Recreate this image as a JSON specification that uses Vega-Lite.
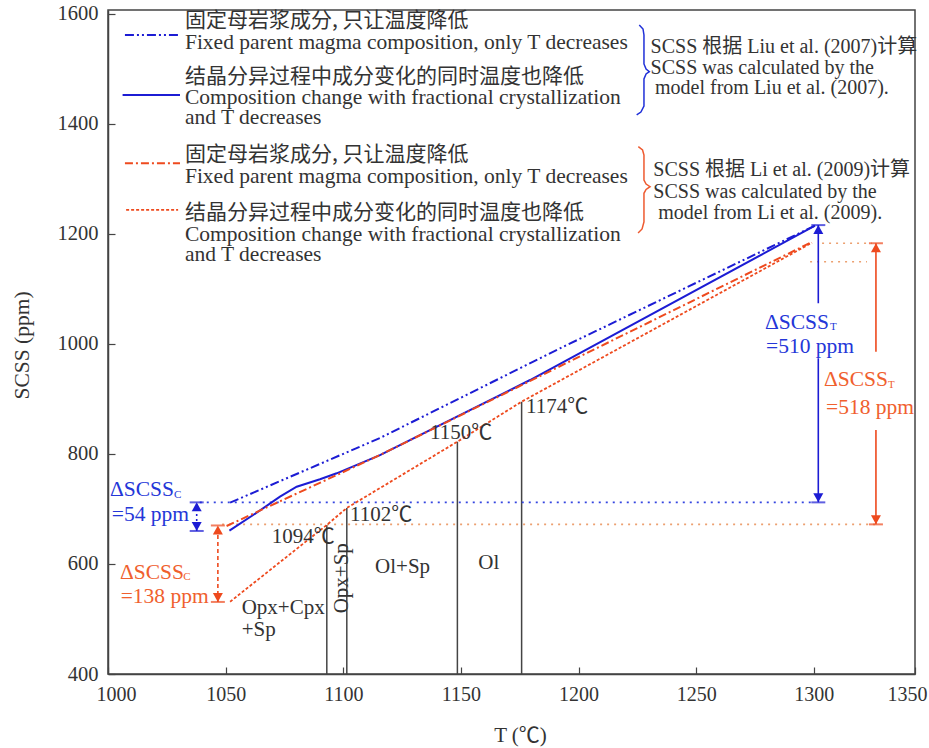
{
  "$schema": "https://vega.github.io/schema/vega-lite/v6.json",
  "width": 807,
  "height": 664,
  "autosize": {"type": "none"},
  "padding": {"left": 108, "top": 10, "right": 14, "bottom": 74},
  "background": "white",
  "config": {
    "view": {"stroke": "#444", "strokeWidth": 1.5},
    "font": "Liberation Serif, Noto Sans CJK SC",
    "text": {"font": "Liberation Serif, Noto Sans CJK SC"}
  },
  "resolve": {"scale": {"color": "independent", "strokeDash": "independent", "shape": "independent"}},
  "datasets": {
    "curves": [
      {"s": "bdd", "p": "c", "T": 1051.9, "ppm": 711.4},
      {"s": "bdd", "p": "c", "T": 1115.6, "ppm": 829},
      {"s": "bdd", "p": "c", "T": 1192.1, "ppm": 992},
      {"s": "bdd", "p": "c", "T": 1300.5, "ppm": 1215},
      {"s": "bdd", "p": "l", "T": 1007.2, "ppm": 1561.6},
      {"s": "bdd", "p": "l", "T": 1029.8, "ppm": 1561.6},
      {"s": "bs", "p": "c", "T": 1051.6, "ppm": 660.5},
      {"s": "bs", "p": "c", "T": 1063.2, "ppm": 693.2},
      {"s": "bs", "p": "c", "T": 1073.1, "ppm": 722.3},
      {"s": "bs", "p": "c", "T": 1080.2, "ppm": 740.5},
      {"s": "bs", "p": "c", "T": 1090.1, "ppm": 753.9},
      {"s": "bs", "p": "c", "T": 1097.2, "ppm": 764.8},
      {"s": "bs", "p": "c", "T": 1115.6, "ppm": 798},
      {"s": "bs", "p": "c", "T": 1179.4, "ppm": 934.4},
      {"s": "bs", "p": "c", "T": 1300.5, "ppm": 1215},
      {"s": "bs", "p": "l", "T": 1006.2, "ppm": 1452.5},
      {"s": "bs", "p": "l", "T": 1030.6, "ppm": 1452.5},
      {"s": "rdd", "p": "c", "T": 1050.4, "ppm": 669},
      {"s": "rdd", "p": "c", "T": 1115.6, "ppm": 798.1},
      {"s": "rdd", "p": "c", "T": 1299.2, "ppm": 1185.3},
      {"s": "rdd", "p": "l", "T": 1007.2, "ppm": 1328.4},
      {"s": "rdd", "p": "l", "T": 1030.6, "ppm": 1328.4},
      {"s": "rdot", "p": "c", "T": 1051.9, "ppm": 531.4},
      {"s": "rdot", "p": "c", "T": 1093.0, "ppm": 670.9},
      {"s": "rdot", "p": "c", "T": 1101.5, "ppm": 701.8},
      {"s": "rdot", "p": "c", "T": 1148.5, "ppm": 822.3},
      {"s": "rdot", "p": "c", "T": 1175.8, "ppm": 895},
      {"s": "rdot", "p": "c", "T": 1299.2, "ppm": 1184},
      {"s": "rdot", "p": "l", "T": 1007.7, "ppm": 1243.5},
      {"s": "rdot", "p": "l", "T": 1029.8, "ppm": 1243.5}
    ],
    "phases": [
      {"T": 1093.0, "ppm": 400, "ppm2": 670.9},
      {"T": 1101.5, "ppm": 400, "ppm2": 701.8},
      {"T": 1148.5, "ppm": 400, "ppm2": 822.3},
      {"T": 1175.8, "ppm": 400, "ppm2": 895}
    ],
    "hrefs": [
      {"g": "blue", "T": 1039, "T2": 1300, "ppm": 712},
      {"g": "red", "T": 1048.5, "T2": 1326.4, "ppm": 672},
      {"g": "red", "T": 1303.5, "T2": 1324.7, "ppm": 1183},
      {"g": "red", "T": 1298.4, "T2": 1322.6, "ppm": 1149.5}
    ],
    "braces": [
      {"g": "blue", "i": 1, "T": 1225.8, "ppm": 1579.7},
      {"g": "blue", "i": 2, "T": 1227.4, "ppm": 1572.5},
      {"g": "blue", "i": 3, "T": 1227.8, "ppm": 1561.6},
      {"g": "blue", "i": 4, "T": 1227.8, "ppm": 1508.9},
      {"g": "blue", "i": 5, "T": 1228.7, "ppm": 1499.8},
      {"g": "blue", "i": 6, "T": 1230.1, "ppm": 1494.9},
      {"g": "blue", "i": 7, "T": 1228.7, "ppm": 1490.7},
      {"g": "blue", "i": 8, "T": 1227.8, "ppm": 1481.6},
      {"g": "blue", "i": 9, "T": 1227.8, "ppm": 1432.5},
      {"g": "blue", "i": 10, "T": 1226.5, "ppm": 1421.6},
      {"g": "blue", "i": 11, "T": 1224.7, "ppm": 1416.2},
      {"g": "red", "i": 1, "T": 1225.4, "ppm": 1358.5},
      {"g": "red", "i": 2, "T": 1227.2, "ppm": 1352.5},
      {"g": "red", "i": 3, "T": 1227.8, "ppm": 1343.4},
      {"g": "red", "i": 4, "T": 1227.8, "ppm": 1298.0},
      {"g": "red", "i": 5, "T": 1228.7, "ppm": 1290.7},
      {"g": "red", "i": 6, "T": 1230.4, "ppm": 1285.8},
      {"g": "red", "i": 7, "T": 1228.7, "ppm": 1280.7},
      {"g": "red", "i": 8, "T": 1227.8, "ppm": 1273.8},
      {"g": "red", "i": 9, "T": 1227.8, "ppm": 1221.8},
      {"g": "red", "i": 10, "T": 1227.0, "ppm": 1209.0},
      {"g": "red", "i": 11, "T": 1225.3, "ppm": 1201.8}
    ],
    "shafts": [
      {"g": "blue", "st": "dot", "T": 1037.7, "ppm": 660, "ppm2": 712},
      {"g": "red", "st": "dash", "T": 1046.7, "ppm": 531, "ppm2": 670},
      {"g": "blue", "st": "solid", "T": 1301.9, "ppm": 712, "ppm2": 974},
      {"g": "blue", "st": "solid", "T": 1301.9, "ppm": 1074, "ppm2": 1216},
      {"g": "red", "st": "solid", "T": 1326.4, "ppm": 672, "ppm2": 843.5},
      {"g": "red", "st": "solid", "T": 1326.4, "ppm": 986, "ppm2": 1183}
    ],
    "heads": [
      {"g": "blue", "dir": "up", "T": 1037.7, "ppm": 712},
      {"g": "blue", "dir": "down", "T": 1037.7, "ppm": 660},
      {"g": "red", "dir": "up", "T": 1046.7, "ppm": 670},
      {"g": "red", "dir": "down", "T": 1046.7, "ppm": 531},
      {"g": "blue", "dir": "up", "T": 1301.9, "ppm": 1216},
      {"g": "blue", "dir": "down", "T": 1301.9, "ppm": 712},
      {"g": "red", "dir": "up", "T": 1326.4, "ppm": 1183},
      {"g": "red", "dir": "down", "T": 1326.4, "ppm": 672}
    ],
    "texts": [
      {"g": "cn", "t": "固定母岩浆成分, 只让温度降低", "T": 1032.7, "ppm": 1587},
      {"g": "cn", "t": "结晶分异过程中成分变化的同时温度也降低", "T": 1032.7, "ppm": 1485.6},
      {"g": "cn", "t": "固定母岩浆成分, 只让温度降低", "T": 1032.7, "ppm": 1343.1},
      {"g": "cn", "t": "结晶分异过程中成分变化的同时温度也降低", "T": 1032.7, "ppm": 1237.1},
      {"g": "en", "t": "Fixed parent magma composition, only T decreases", "T": 1032.7, "ppm": 1546.5},
      {"g": "en", "t": "Composition change with fractional crystallization", "T": 1032.7, "ppm": 1446.5},
      {"g": "en", "t": "and T decreases", "T": 1032.7, "ppm": 1410.1},
      {"g": "en", "t": "Fixed parent magma composition, only T decreases", "T": 1032.7, "ppm": 1304.0},
      {"g": "en", "t": "Composition change with fractional crystallization", "T": 1032.7, "ppm": 1198.0},
      {"g": "en", "t": "and T decreases", "T": 1032.7, "ppm": 1161.7},
      {"g": "note", "t": "SCSS 根据 Liu et al. (2007)计算", "T": 1230.6, "ppm": 1540.3},
      {"g": "note", "t": "SCSS was calculated by the", "T": 1230.6, "ppm": 1501.0},
      {"g": "note", "t": "model from Liu et al. (2007).", "T": 1232.5, "ppm": 1464.7},
      {"g": "note", "t": "SCSS 根据 Li et al. (2009)计算", "T": 1231.8, "ppm": 1316.2},
      {"g": "note", "t": "SCSS was calculated by the", "T": 1231.8, "ppm": 1275.6},
      {"g": "note", "t": "model from Li et al. (2009).", "T": 1233.9, "ppm": 1238.6},
      {"g": "blue", "t": "ΔSCSS", "T": 1000.85, "ppm": 734.5},
      {"g": "bsub", "t": "C", "T": 1028.1, "ppm": 725.4},
      {"g": "blue", "t": "=54 ppm", "T": 1001.6, "ppm": 689.0},
      {"g": "red", "t": "ΔSCSS", "T": 1005.1, "ppm": 583.1},
      {"g": "rsub", "t": "C", "T": 1032.0, "ppm": 576.9},
      {"g": "red", "t": "=138 ppm", "T": 1005.4, "ppm": 540.5},
      {"g": "blue", "t": "ΔSCSS", "T": 1279.2, "ppm": 1037.5},
      {"g": "bsub", "t": "T", "T": 1306.9, "ppm": 1031.3},
      {"g": "blue", "t": "=510 ppm", "T": 1279.7, "ppm": 995.0},
      {"g": "red", "t": "ΔSCSS", "T": 1304.3, "ppm": 934.4},
      {"g": "rsub", "t": "T", "T": 1331.5, "ppm": 925.3},
      {"g": "red", "t": "=518 ppm", "T": 1305.2, "ppm": 883.0},
      {"g": "ph", "t": "1094℃", "T": 1069.6, "ppm": 649.6},
      {"g": "ph", "t": "1102℃", "T": 1102.9, "ppm": 689.0},
      {"g": "ph", "t": "1150℃", "T": 1136.9, "ppm": 837.5},
      {"g": "ph", "t": "1174℃", "T": 1177.7, "ppm": 885.9},
      {"g": "ph", "t": "Opx+Cpx", "T": 1056.8, "ppm": 519.4},
      {"g": "ph", "t": "+Sp", "T": 1056.8, "ppm": 480},
      {"g": "ph", "t": "Ol+Sp", "T": 1113.5, "ppm": 595},
      {"g": "ph", "t": "Ol", "T": 1157.4, "ppm": 601.2},
      {"g": "rot", "t": "Opx+Sp", "T": 1099.3, "ppm": 574.0}
    ]
  },
  "encoding": {
    "x": {
      "field": "T", "type": "quantitative", "title": "T (℃)",
      "scale": {"domain": [1000, 1343], "nice": false, "zero": false},
      "axis": {
        "values": [1000, 1050, 1100, 1150, 1200, 1250, 1300, 1343],
        "format": "d",
        "labelExpr": "datum.value > 1340 ? '1350' : datum.label",
        "labelFlush": true, "labelFlushOffset": 12, "labelOverlap": false,
        "grid": false, "tickSize": -7, "tickWidth": 1.2, "tickColor": "#444",
        "domainColor": "#444", "domainWidth": 1.5,
        "labelPadding": 17, "labelFontSize": 20, "labelFont": "Liberation Serif", "labelColor": "#333",
        "titleFont": "Liberation Serif, Noto Sans CJK SC", "titleFontSize": 21, "titleFontWeight": "normal", "titleColor": "#333",
        "titleX": 412, "titleY": 61, "titleAlign": "center", "titleBaseline": "middle"
      }
    },
    "y": {
      "field": "ppm", "type": "quantitative", "title": "SCSS (ppm)",
      "scale": {"domain": [400, 1607], "nice": false, "zero": false},
      "axis": {
        "values": [400, 600, 800, 1000, 1200, 1400, 1600],
        "format": "d", "labelOverlap": false,
        "grid": false, "tickSize": -7, "tickWidth": 1.2, "tickColor": "#444",
        "domainColor": "#444", "domainWidth": 1.5,
        "labelPadding": 17, "labelFontSize": 20.5, "labelFont": "Liberation Serif", "labelColor": "#333",
        "titleFont": "Liberation Serif", "titleFontSize": 21.5, "titleFontWeight": "normal", "titleColor": "#333",
        "titleX": -86, "titleY": 335, "titleAngle": 270, "titleAlign": "center", "titleBaseline": "middle"
      }
    }
  },
  "layer": [
    {
      "data": {"name": "phases"},
      "mark": {"type": "rule", "color": "#444", "strokeWidth": 1.5},
      "encoding": {"y2": {"field": "ppm2"}}
    },
    {
      "data": {"name": "hrefs"},
      "mark": {"type": "rule", "strokeWidth": 1.6, "strokeDash": [2, 5]},
      "encoding": {
        "x2": {"field": "T2"},
        "color": {"field": "g", "type": "nominal", "legend": null, "scale": {"domain": ["blue", "red"], "range": ["#3546e0", "#eca070"]}}
      }
    },
    {
      "data": {"name": "curves"},
      "transform": [{"filter": "datum.s == 'bdd'"}],
      "mark": {"type": "line", "color": "#1c1cd4", "strokeWidth": 2, "strokeDash": [9, 3, 2, 3, 2, 3]},
      "encoding": {"detail": {"field": "p"}}
    },
    {
      "data": {"name": "curves"},
      "transform": [{"filter": "datum.s == 'bs'"}],
      "mark": {"type": "line", "color": "#1c1cd4", "strokeWidth": 2},
      "encoding": {"detail": {"field": "p"}}
    },
    {
      "data": {"name": "curves"},
      "transform": [{"filter": "datum.s == 'rdd'"}],
      "mark": {"type": "line", "color": "#ee4a1e", "strokeWidth": 2, "strokeDash": [8, 3, 2, 3]},
      "encoding": {"detail": {"field": "p"}}
    },
    {
      "data": {"name": "curves"},
      "transform": [{"filter": "datum.s == 'rdot'"}],
      "mark": {"type": "line", "color": "#ee4a1e", "strokeWidth": 1.8, "strokeDash": [3, 2]},
      "encoding": {"detail": {"field": "p"}}
    },
    {
      "data": {"name": "braces"},
      "mark": {"type": "line", "strokeWidth": 1.5},
      "encoding": {
        "order": {"field": "i"},
        "detail": {"field": "g"},
        "color": {"field": "g", "type": "nominal", "legend": null, "scale": {"domain": ["blue", "red"], "range": ["#2030d8", "#ee5a30"]}}
      }
    },
    {
      "data": {"name": "shafts"},
      "mark": {"type": "rule", "strokeWidth": 1.6},
      "encoding": {
        "y2": {"field": "ppm2"},
        "color": {"field": "g", "type": "nominal", "legend": null, "scale": {"domain": ["blue", "red"], "range": ["#1c1cd4", "#ee4a1e"]}},
        "strokeDash": {"field": "st", "type": "nominal", "legend": null, "scale": {"domain": ["solid", "dot", "dash"], "range": [[1, 0], [2, 3], [4, 3]]}}
      }
    },
    {
      "data": {"name": "heads"},
      "mark": {"type": "point", "filled": true, "opacity": 1, "size": 100},
      "encoding": {
        "shape": {"field": "dir", "type": "nominal", "legend": null, "scale": {"domain": ["up", "down"], "range": ["M0,0L-1,1.8L1,1.8Z", "M0,0L-1,-1.8L1,-1.8Z"]}},
        "color": {"field": "g", "type": "nominal", "legend": null, "scale": {"domain": ["blue", "red"], "range": ["#1c1cd4", "#ee4a1e"]}}
      }
    },
    {
      "data": {"name": "heads"},
      "mark": {"type": "tick", "orient": "horizontal", "size": 14, "thickness": 2},
      "encoding": {
        "color": {"field": "g", "type": "nominal", "legend": null, "scale": {"domain": ["blue", "red"], "range": ["#1c1cd4", "#ee4a1e"]}}
      }
    },
    {
      "data": {"name": "texts"},
      "transform": [{"filter": "datum.g == 'cn'"}],
      "mark": {"type": "text", "align": "left", "baseline": "middle", "fontSize": 21, "font": "Noto Sans CJK SC", "color": "#333"},
      "encoding": {"text": {"field": "t"}}
    },
    {
      "data": {"name": "texts"},
      "transform": [{"filter": "datum.g == 'en'"}],
      "mark": {"type": "text", "align": "left", "baseline": "middle", "fontSize": 21.5, "color": "#333"},
      "encoding": {"text": {"field": "t"}}
    },
    {
      "data": {"name": "texts"},
      "transform": [{"filter": "datum.g == 'note'"}],
      "mark": {"type": "text", "align": "left", "baseline": "middle", "fontSize": 20, "color": "#333"},
      "encoding": {"text": {"field": "t"}}
    },
    {
      "data": {"name": "texts"},
      "transform": [{"filter": "datum.g == 'blue'"}],
      "mark": {"type": "text", "align": "left", "baseline": "middle", "fontSize": 21.5, "color": "#2436d8"},
      "encoding": {"text": {"field": "t"}}
    },
    {
      "data": {"name": "texts"},
      "transform": [{"filter": "datum.g == 'red'"}],
      "mark": {"type": "text", "align": "left", "baseline": "middle", "fontSize": 21.5, "color": "#f0602e"},
      "encoding": {"text": {"field": "t"}}
    },
    {
      "data": {"name": "texts"},
      "transform": [{"filter": "datum.g == 'bsub'"}],
      "mark": {"type": "text", "align": "left", "baseline": "middle", "fontSize": 11, "color": "#2436d8"},
      "encoding": {"text": {"field": "t"}}
    },
    {
      "data": {"name": "texts"},
      "transform": [{"filter": "datum.g == 'rsub'"}],
      "mark": {"type": "text", "align": "left", "baseline": "middle", "fontSize": 11, "color": "#f0602e"},
      "encoding": {"text": {"field": "t"}}
    },
    {
      "data": {"name": "texts"},
      "transform": [{"filter": "datum.g == 'ph'"}],
      "mark": {"type": "text", "align": "left", "baseline": "middle", "fontSize": 21, "color": "#333"},
      "encoding": {"text": {"field": "t"}}
    },
    {
      "data": {"name": "texts"},
      "transform": [{"filter": "datum.g == 'rot'"}],
      "mark": {"type": "text", "align": "center", "baseline": "middle", "fontSize": 21, "angle": 270, "color": "#333"},
      "encoding": {"text": {"field": "t"}}
    }
  ]
}
